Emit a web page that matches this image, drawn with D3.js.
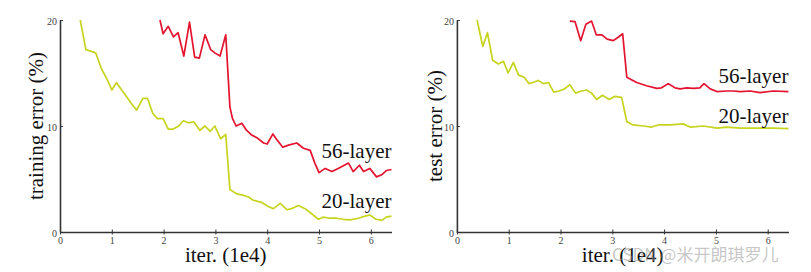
<!DOCTYPE html>
<html>
<head>
<meta charset="utf-8">
<script src="https://cdn.jsdelivr.net/npm/d3@7"></script>
<style>
  body { margin: 0; background: #fff; }
  svg { display: block; }
</style>
</head>
<body>
<div id="chart"></div>
<script>
// iterations are in units of 1e4, errors in %
var train20Iter = [0.39, 0.5, 0.69, 0.8, 0.9, 1.0, 1.09, 1.19, 1.28, 1.38, 1.48, 1.6, 1.69, 1.79, 1.88, 1.99, 2.09, 2.18, 2.29, 2.38, 2.48, 2.58, 2.7, 2.8, 2.9, 2.99, 3.1, 3.2, 3.28, 3.41, 3.51, 3.64, 3.73, 3.89, 4.0, 4.12, 4.25, 4.38, 4.47, 4.6, 4.73, 4.89, 4.99, 5.08, 5.21, 5.34, 5.47, 5.6, 5.76, 5.89, 5.98, 6.1, 6.21, 6.3, 6.4];
var train20Err = [20, 17.2, 16.9, 15.4, 14.5, 13.4, 14.1, 13.4, 12.8, 12.1, 11.5, 12.6, 12.6, 11.2, 10.7, 10.7, 9.7, 9.7, 10.0, 10.5, 10.3, 10.4, 9.6, 10.0, 9.5, 10.0, 8.8, 9.2, 4.0, 3.6, 3.5, 3.3, 3.0, 2.8, 2.45, 2.2, 2.7, 2.1, 2.2, 2.5, 2.2, 1.6, 1.2, 1.4, 1.3, 1.3, 1.2, 1.15, 1.3, 1.5, 1.6, 1.2, 1.1, 1.4, 1.5];

var train56Iter = [1.93, 1.99, 2.09, 2.19, 2.28, 2.39, 2.5, 2.6, 2.69, 2.8, 2.91, 2.99, 3.09, 3.2, 3.28, 3.33, 3.4, 3.51, 3.6, 3.7, 3.8, 3.93, 4.0, 4.11, 4.18, 4.3, 4.41, 4.57, 4.7, 4.83, 4.92, 5.0, 5.12, 5.25, 5.37, 5.57, 5.66, 5.78, 5.86, 5.98, 6.11, 6.21, 6.3, 6.4];
var train56Err = [20, 18.7, 19.4, 18.4, 18.8, 16.6, 19.8, 16.5, 16.4, 18.6, 17.2, 16.9, 16.6, 18.6, 11.8, 10.7, 10.0, 10.25, 9.6, 9.15, 8.9, 8.4, 8.3, 9.25, 8.75, 8.0, 8.2, 8.4, 7.9, 7.7, 6.5, 5.6, 6.0, 5.7, 6.0, 6.5, 5.7, 6.3, 5.7, 6.0, 5.2, 5.4, 5.8, 5.9];

var test20Iter = [0.39, 0.5, 0.59, 0.69, 0.8, 0.9, 0.99, 1.09, 1.19, 1.3, 1.39, 1.47, 1.57, 1.67, 1.77, 1.87, 1.97, 2.08, 2.18, 2.29, 2.4, 2.5, 2.6, 2.7, 2.81, 2.94, 3.05, 3.18, 3.28, 3.4, 3.6, 3.76, 3.89, 4.11, 4.37, 4.5, 4.76, 5.02, 5.21, 5.47, 5.79, 6.11, 6.4];
var test20Err = [20, 17.5, 18.8, 16.2, 15.85, 16.1, 15.0, 16.0, 14.8, 14.6, 14.0, 14.1, 14.3, 14.0, 14.1, 13.2, 13.3, 13.5, 13.9, 13.1, 13.3, 13.4, 13.1, 12.5, 12.9, 12.5, 12.8, 12.7, 10.4, 10.1, 10.0, 9.9, 10.1, 10.1, 10.2, 9.9, 10.0, 9.8, 9.9, 9.8, 9.8, 9.8, 9.75];

var test56Iter = [2.18, 2.28, 2.39, 2.49, 2.6, 2.69, 2.8, 2.9, 3.02, 3.12, 3.2, 3.28, 3.47, 3.66, 3.86, 3.95, 4.08, 4.21, 4.31, 4.44, 4.57, 4.69, 4.77, 4.89, 5.02, 5.21, 5.34, 5.47, 5.66, 5.85, 6.11, 6.4];
var test56Err = [19.9, 19.85, 18.05, 19.6, 19.9, 18.6, 18.6, 18.2, 18.05, 18.4, 18.7, 14.6, 14.1, 13.8, 13.55, 13.6, 14.0, 13.6, 13.5, 13.6, 13.55, 13.6, 14.0, 13.5, 13.25, 13.3, 13.3, 13.25, 13.3, 13.15, 13.3, 13.25];

var xTicks = [0, 1, 2, 3, 4, 5, 6];
var yTicks = [0, 10, 20];
var seriesNames = ['56-layer', '20-layer'];

var w = 811;
var h = 272;
var red = '#e4132f';
var yellow = '#c6d41e';
var serif = '"Liberation Serif", "DejaVu Serif", serif';

var svg = d3.select('#chart')
            .append('svg')
            .attr('width', w)
            .attr('height', h);

function zip(xs, ys) {
  return xs.map((x, i) => ({ x: x, y: ys[i] }));
}

function panel(left, yLabel, yLabelX, deep, shallow, labelY) {
  var xScale = d3.scaleLinear().domain([0, 6.4]).range([left, left + 6.4 * 51.8]);
  var yScale = d3.scaleLinear().domain([0, 20]).range([232, 20]);

  var g = svg.append('g');

  var xAxis = d3.axisBottom(xScale).tickValues(xTicks).tickFormat(d3.format('d'))
                .tickSizeInner(2.5).tickSizeOuter(0).tickPadding(2);
  var yAxis = d3.axisLeft(yScale).tickValues(yTicks).tickFormat(d3.format('d'))
                .tickSizeInner(-3).tickSizeOuter(0).tickPadding(3);

  var gx = g.append('g').attr('transform', 'translate(0,232)').call(xAxis);
  gx.selectAll('.tick line').attr('y1', -2.5);
  var gy = g.append('g').attr('transform', `translate(${left},0)`).call(yAxis);

  g.selectAll('.domain').attr('stroke', '#333').attr('stroke-width', 1.6);
  g.selectAll('.tick line').attr('stroke', '#333').attr('stroke-width', 1);
  g.selectAll('.tick text')
    .attr('font-family', serif)
    .attr('font-size', 10)
    .attr('fill', '#444');
  gy.selectAll('.tick text').attr('dy', '0.45em');

  var line = d3.line().x(d => xScale(d.x)).y(d => yScale(d.y));

  g.append('path')
    .datum(shallow)
    .attr('d', line)
    .attr('fill', 'none')
    .attr('stroke', yellow)
    .attr('stroke-width', 1.7)
    .attr('stroke-linejoin', 'round');

  g.append('path')
    .datum(deep)
    .attr('d', line)
    .attr('fill', 'none')
    .attr('stroke', red)
    .attr('stroke-width', 1.7)
    .attr('stroke-linejoin', 'round');

  // series labels at the right end of the axis
  seriesNames.forEach(function(name, i) {
    g.append('text')
      .attr('x', xScale(6.4))
      .attr('y', labelY[i])
      .attr('text-anchor', 'end')
      .attr('font-family', serif)
      .attr('font-size', 21)
      .attr('fill', '#111')
      .text(name);
  });

  g.append('text')
    .attr('x', xScale(3.2))
    .attr('y', 262)
    .attr('text-anchor', 'middle')
    .attr('font-family', serif)
    .attr('font-size', 21)
    .attr('fill', '#111')
    .text('iter. (1e4)');

  g.append('text')
    .attr('transform', `translate(${yLabelX},126) rotate(-90)`)
    .attr('text-anchor', 'middle')
    .attr('font-family', serif)
    .attr('font-size', 21)
    .attr('fill', '#111')
    .text(yLabel);
}

panel(60, 'training error (%)', 43, zip(train56Iter, train56Err), zip(train20Iter, train20Err), [158, 208]);
panel(456.9, 'test error (%)', 442, zip(test56Iter, test56Err), zip(test20Iter, test20Err), [83, 123]);

// watermark (sits over the right axis title, as in the source image)
svg.append('text')
  .attr('x', 612)
  .attr('y', 261)
  .attr('font-family', '"Noto Sans CJK SC", "Noto Sans", sans-serif')
  .attr('font-size', 17)
  .attr('fill', 'rgba(150,150,150,0.55)')
  .text('CSDN @米开朗琪罗儿');
</script>
</body>
</html>
